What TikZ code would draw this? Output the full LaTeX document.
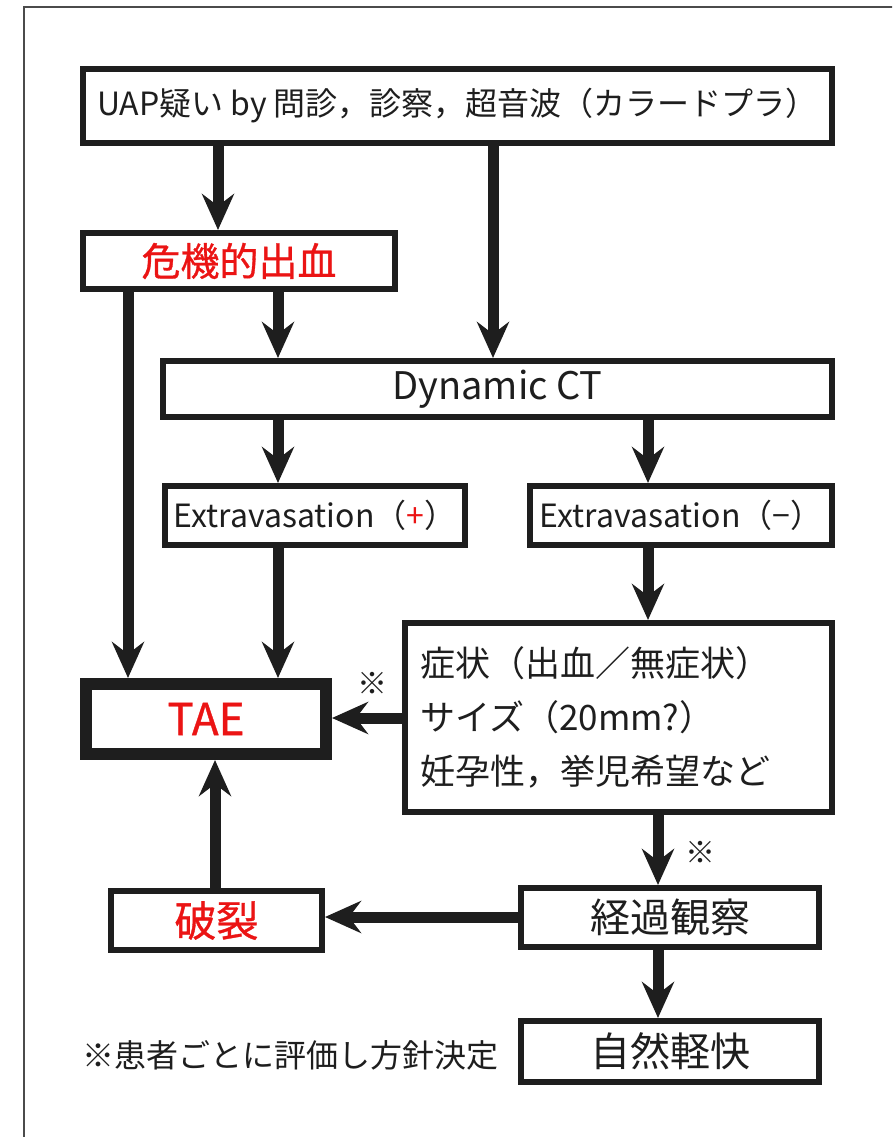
\documentclass[tikz,border=0pt]{standalone}
\usepackage{fontspec}
\setmainfont{Noto Sans CJK JP}
\newfontfamily\redfont{Noto Sans CJK JP}[FakeBold=0.8]
\usetikzlibrary{arrows.meta}
\definecolor{myred}{RGB}{235,20,20}
\definecolor{ink}{RGB}{30,30,30}
\tikzset{
  box/.style={draw=ink, line width=6pt, fill=white, inner sep=0pt, align=center, text=ink},
  thickbox/.style={box, line width=12pt},
  flow/.style={draw=ink, line width=11pt, -{Stealth[length=36pt,width=32pt,inset=12pt]}},
  lbl/.style={inner sep=0pt, text=ink},
}
\newcommand{\fs}[1]{\fontsize{#1}{#1}\selectfont}
\begin{document}
\begin{tikzpicture}[x=1pt,y=-1pt]
\useasboundingbox[fill=white] (0,0) rectangle (892,1137);
\clip (0,0) rectangle (892,1137);
\draw[line width=1.5pt, ink!80] (24,1150) -- (24,7) -- (900,7);

% columns and rows
\coordinate (cA) at (128,0);
\coordinate (cB) at (218,0);
\coordinate (cC) at (278,0);
\coordinate (cD) at (493,0);
\coordinate (cE) at (648,0);
\coordinate (cF) at (658,0);
\coordinate (cG) at (215,0);
\coordinate (rH) at (0,718);
\coordinate (rK) at (0,917);

% nodes
\node[box, minimum width=749pt, minimum height=74pt, font=\fs{32}] (uap) at (457.5,106)
  {UAP疑い by 問診，診察，超音波（カラードプラ）};
\node[box, minimum width=312pt, minimum height=56pt, text=myred, font=\redfont\fs{39}] (kiki) at (239,261)
  {危機的出血};
\node[box, minimum width=669pt, minimum height=56pt, font=\fs{38}] (dct) at (497.5,389)
  {Dynamic CT};
\node[box, minimum width=300pt, minimum height=59pt, font=\fs{32}] (extp) at (315,515.5)
  {Extravasation（\textcolor{myred}{+}）};
\node[box, minimum width=302pt, minimum height=59pt, font=\fs{32}] (extm) at (681,515.5)
  {Extravasation（−）};
\node[box, minimum width=427pt, minimum height=189pt] (sym) at (618.5,717.5) {};
\node[lbl, anchor=west, align=left, font=\fontsize{35}{54}\selectfont] (symtxt) at (420,717.5)
  {症状（出血／無症状）\\ サイズ（20mm?）\\ 妊孕性，挙児希望など};
\node[thickbox, minimum width=240pt, minimum height=70pt, text=myred, font=\redfont\fs{44}] (tae) at (206,719)
  {TAE};
\node[box, minimum width=211pt, minimum height=59pt, text=myred, font=\redfont\fs{42}] (haretsu) at (216.5,920.5)
  {破裂};
\node[box, minimum width=298pt, minimum height=59pt, font=\fs{40}] (keika) at (670,917.5)
  {経過観察};
\node[box, minimum width=298pt, minimum height=61pt, font=\fs{40}] (shizen) at (670,1051.5)
  {自然軽快};
\node[lbl, font=\fs{30}] (note1) at (372,683) {※};
\node[lbl, font=\fs{30}] (note2) at (700,852) {※};
\node[lbl, font=\fs{32}] (foot) at (290,1055) {※患者ごとに評価し方針決定};

% connectors
\draw[flow] (uap.south -| cB) -- (kiki.north -| cB);
\draw[flow] (uap.south -| cD) -- (dct.north -| cD);
\draw[flow] (kiki.south -| cC) -- (dct.north -| cC);
\draw[flow] (kiki.south -| cA) -- (tae.north -| cA);
\draw[flow] (dct.south -| cC) -- (extp.north -| cC);
\draw[flow] (dct.south -| cE) -- (extm.north -| cE);
\draw[flow] (extp.south -| cC) -- (tae.north -| cC);
\draw[flow] (extm.south -| cE) -- (sym.north -| cE);
\draw[flow] (sym.west |- rH) -- (tae.east |- rH);
\draw[flow] (sym.south -| cF) -- (keika.north -| cF);
\draw[flow] (keika.west |- rK) -- (haretsu.east |- rK);
\draw[flow] (haretsu.north -| cG) -- (tae.south -| cG);
\draw[flow] (keika.south -| cF) -- (shizen.north -| cF);
\end{tikzpicture}
\end{document}
